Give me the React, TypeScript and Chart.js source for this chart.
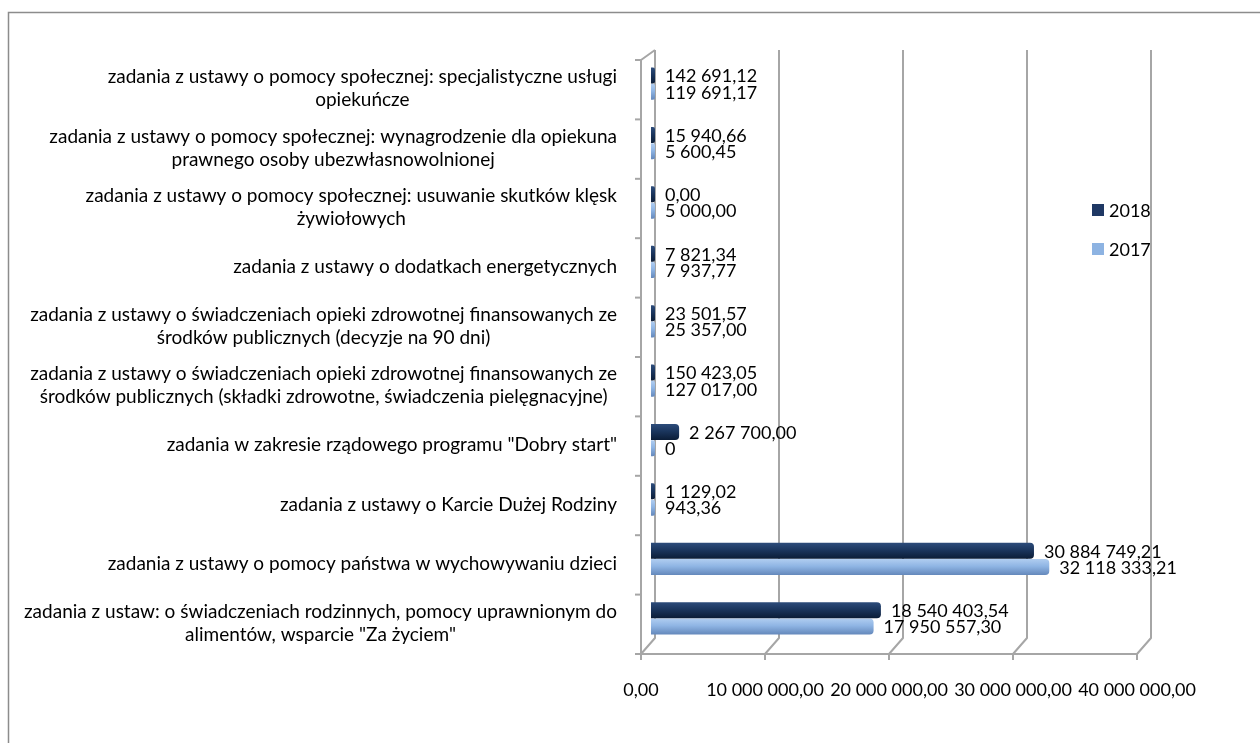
import React, { useEffect, useRef } from "react";
import { Chart, registerables } from "chart.js";

Chart.register(...registerables);

const categories: string[][] = [
  ["zadania z ustawy o pomocy społecznej: specjalistyczne usługi", "opiekuńcze"],
  ["zadania z ustawy o pomocy społecznej: wynagrodzenie dla opiekuna", "prawnego osoby ubezwłasnowolnionej"],
  ["zadania z ustawy o pomocy społecznej: usuwanie skutków klęsk", "żywiołowych"],
  ["zadania z ustawy o dodatkach energetycznych"],
  ["zadania z ustawy o świadczeniach opieki zdrowotnej finansowanych ze", "środków publicznych (decyzje na 90 dni)"],
  ["zadania z ustawy o świadczeniach opieki zdrowotnej finansowanych ze", "środków publicznych (składki zdrowotne, świadczenia pielęgnacyjne)"],
  ['zadania w zakresie rządowego programu "Dobry start"'],
  ["zadania z ustawy o Karcie Dużej Rodziny"],
  ["zadania z ustawy o pomocy państwa w wychowywaniu dzieci"],
  ["zadania z ustaw: o świadczeniach rodzinnych, pomocy uprawnionym do", 'alimentów, wsparcie "Za życiem"'],
];

const values2018 = [142691.12, 15940.66, 0, 7821.34, 23501.57, 150423.05, 2267700, 1129.02, 30884749.21, 18540403.54];
const values2017 = [119691.17, 5600.45, 5000, 7937.77, 25357, 127017, 0, 943.36, 32118333.21, 17950557.3];

const labels2018 = ["142 691,12", "15 940,66", "0,00", "7 821,34", "23 501,57", "150 423,05", "2 267 700,00", "1 129,02", "30 884 749,21", "18 540 403,54"];
const labels2017 = ["119 691,17", "5 600,45", "5 000,00", "7 937,77", "25 357,00", "127 017,00", "0", "943,36", "32 118 333,21", "17 950 557,30"];

const xTicks = [0, 10000000, 20000000, 30000000, 40000000];
const xTickLabels = ["0,00", "10 000 000,00", "20 000 000,00", "30 000 000,00", "40 000 000,00"];

const seriesNames = ["2018", "2017"];
const seriesColors = ["#1F3864", "#8DB3E2"];
const seriesGradients = [
  ["#2d4c7b", "#1b365e", "#0b1d37"],
  ["#b0cdf0", "#8fb5e4", "#6488bb"],
];

const FONT = "Lato, 'Liberation Sans', sans-serif";
const NUM_SIZE = 18;
const CAT_SIZE = 19;
const GRID = "#a6a6a6";
const FRONT_DX = -10;
const BACK_DX = 4;

const decorPlugin = {
  id: "decor",
  beforeDraw(chart: any) {
    const ctx = chart.ctx;
    ctx.save();
    ctx.strokeStyle = "#8c8c8c";
    ctx.lineWidth = 1.5;
    ctx.beginPath();
    ctx.moveTo(8.5, 743);
    ctx.lineTo(8.5, 12.5);
    ctx.lineTo(1260, 12.5);
    ctx.stroke();
    ctx.restore();
  },
  beforeDatasetsDraw(chart: any) {
    const { ctx, chartArea } = chart;
    const x = chart.scales.x;
    const y = chart.scales.y;
    const backTop = chartArea.top - 4;
    const backBottom = chartArea.bottom - 10;
    const frontTop = chartArea.top + 6;
    const frontBottom = chartArea.bottom + 6;
    ctx.save();
    ctx.strokeStyle = GRID;
    ctx.lineWidth = 2;
    ctx.lineJoin = "round";
    xTicks.forEach((v) => {
      const px = x.getPixelForValue(v);
      const bx = px + BACK_DX;
      const fx = px + FRONT_DX;
      ctx.beginPath();
      ctx.moveTo(bx, backTop);
      ctx.lineTo(bx, backBottom);
      ctx.lineTo(fx, frontBottom);
      ctx.stroke();
      ctx.beginPath();
      ctx.moveTo(fx, frontBottom);
      ctx.lineTo(fx, frontBottom + 6);
      ctx.stroke();
    });
    const f0 = x.getPixelForValue(xTicks[0]) + FRONT_DX;
    const f1 = x.getPixelForValue(xTicks[xTicks.length - 1]) + FRONT_DX;
    const b0 = x.getPixelForValue(xTicks[0]) + BACK_DX;
    ctx.beginPath();
    ctx.moveTo(f0, frontBottom);
    ctx.lineTo(f1, frontBottom);
    ctx.stroke();
    ctx.beginPath();
    ctx.moveTo(b0, backTop);
    ctx.lineTo(f0, frontTop);
    ctx.lineTo(f0, frontBottom);
    ctx.stroke();
    const band = y.getPixelForValue(1) - y.getPixelForValue(0);
    for (let i = 0; i <= categories.length; i++) {
      const yy = y.getPixelForValue(0) - band / 2 + i * band + 6;
      ctx.beginPath();
      ctx.moveTo(f0 - 6, yy);
      ctx.lineTo(f0, yy);
      ctx.stroke();
    }
    ctx.restore();

    chart.data.datasets.forEach((ds: any, di: number) => {
      const meta = chart.getDatasetMeta(di);
      meta.data.forEach((el: any) => {
        const h = el.height;
        const g = ctx.createLinearGradient(0, el.y - h / 2, 0, el.y + h / 2);
        const c = seriesGradients[di];
        g.addColorStop(0, c[0]);
        g.addColorStop(0.45, c[1]);
        g.addColorStop(1, c[2]);
        el.options = Object.assign({}, el.options, { backgroundColor: g });
      });
    });
  },
  afterDatasetsDraw(chart: any) {
    const { ctx } = chart;
    ctx.save();
    ctx.font = `${NUM_SIZE}px ${FONT}`;
    ctx.fillStyle = "#000";
    ctx.textBaseline = "middle";
    ctx.textAlign = "left";
    const lbls = [labels2018, labels2017];
    chart.data.datasets.forEach((ds: any, di: number) => {
      const meta = chart.getDatasetMeta(di);
      meta.data.forEach((el: any, i: number) => {
        ctx.fillText(lbls[di][i], el.x + 10, el.y + 1);
      });
    });
    ctx.restore();
  },
  afterDraw(chart: any) {
    const { ctx, chartArea } = chart;
    const x = chart.scales.x;
    const y = chart.scales.y;
    ctx.save();
    ctx.font = `${NUM_SIZE}px ${FONT}`;
    ctx.fillStyle = "#000";
    ctx.textBaseline = "middle";
    ctx.textAlign = "center";
    xTicks.forEach((v, i) => {
      ctx.fillText(xTickLabels[i], x.getPixelForValue(v) + FRONT_DX, chartArea.bottom + 42);
    });
    ctx.font = `${CAT_SIZE}px ${FONT}`;
    const right = x.getPixelForValue(0) - 34;
    const lineH = 23;
    categories.forEach((lines, i) => {
      const cy = y.getPixelForValue(i) + 5;
      const w = Math.max(...lines.map((l) => ctx.measureText(l).width));
      const cx = right - w / 2;
      lines.forEach((l, k) => {
        const ly = cy + (k - (lines.length - 1) / 2) * lineH;
        ctx.fillText(l, cx, ly);
      });
    });
    ctx.font = `${NUM_SIZE}px ${FONT}`;
    ctx.textAlign = "left";
    seriesNames.forEach((n, i) => {
      const ly = 210 + i * 39;
      ctx.fillStyle = seriesColors[i];
      ctx.fillRect(1092, ly - 6, 12, 12);
      ctx.fillStyle = "#000";
      ctx.fillText(n, 1109, ly + 1);
    });
    ctx.restore();
  },
};

export default function App() {
  const ref = useRef<HTMLCanvasElement>(null);
  useEffect(() => {
    const canvas = ref.current!;
    const chart = new Chart(canvas, {
      type: "bar",
      data: {
        labels: categories.map((c) => c.join(" ")),
        datasets: [
          {
            label: seriesNames[0],
            data: values2018,
            backgroundColor: seriesColors[0],
            borderWidth: 0,
            borderRadius: 4,
            borderSkipped: "start",
            minBarLength: 4,
            categoryPercentage: 0.55,
            barPercentage: 0.98,
          },
          {
            label: seriesNames[1],
            data: values2017,
            backgroundColor: seriesColors[1],
            borderWidth: 0,
            borderRadius: 4,
            borderSkipped: "start",
            minBarLength: 4,
            categoryPercentage: 0.55,
            barPercentage: 0.98,
          },
        ],
      },
      options: {
        indexAxis: "y",
        responsive: false,
        animation: false,
        devicePixelRatio: 1,
        layout: { padding: { left: 651, right: 113, top: 54, bottom: 95 } },
        plugins: { legend: { display: false }, tooltip: { enabled: false } },
        scales: {
          x: { display: false, min: 0, max: 40000000 },
          y: { display: false, offset: true },
        },
      },
      plugins: [decorPlugin],
    } as any);
    return () => chart.destroy();
  }, []);
  return (
    <canvas
      ref={ref}
      width={1260}
      height={743}
      style={{ position: "fixed", left: 0, top: 0, width: 1260, height: 743 }}
    />
  );
}
